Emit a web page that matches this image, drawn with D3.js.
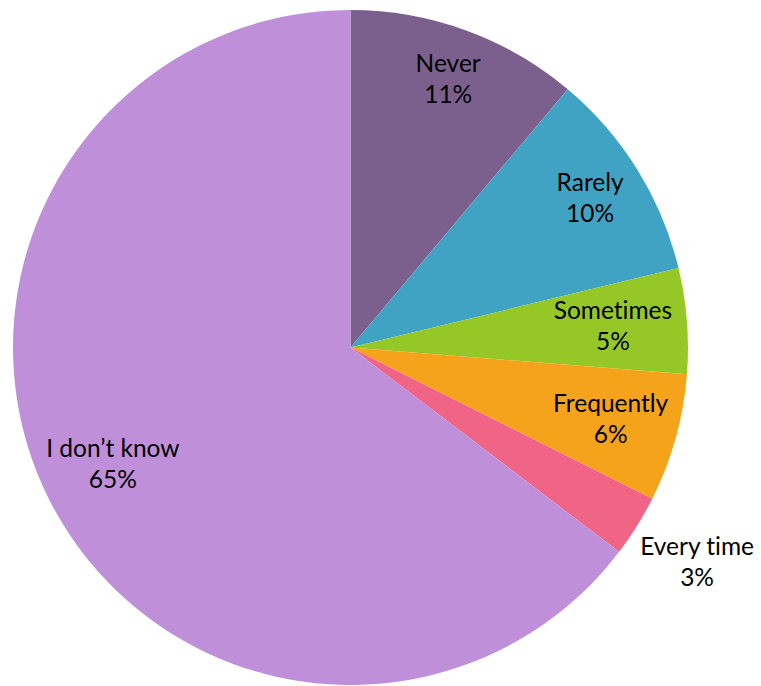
<!DOCTYPE html>
<html>
<head>
  <meta charset="utf-8">
  <title>Pie</title>
  <script src="https://cdn.jsdelivr.net/npm/d3@7"></script>
  <style>
    body { margin: 0; background: #fff; }
    svg text { font-family: Lato, "Open Sans", sans-serif; fill: #000; font-variant-ligatures: none; }
  </style>
</head>
<body>
<div id="container"></div>
<script>
    // answer categories, in clockwise order from 12 o'clock
    var categories = ['Never', 'Rarely', 'Sometimes', 'Frequently', 'Every time', 'I don\u2019t know'];
    var shares = [11.13, 10.09, 5.04, 6.13, 2.96, 64.65];
    var colors = ['#7B608E', '#41A3C3', '#95C826', '#F5A31B', '#F06586', '#BF90D9'];

    // how far out each data label sits (fraction of radius)
    var labelRadius = [0.845, 0.835, 0.78, 0.80, 1.21, 0.786];

    var width = 761, height = 686;
    var cx = 350.5, cy = 347.5, R = 337.5;

    var svg = d3.select("#container").append("svg")
        .attr("width", width).attr("height", height);

    var g = svg.append("g").attr("transform", "translate(" + cx + "," + cy + ")");

    var data = categories.map(function(c, i){ return {name: c, value: shares[i], color: colors[i], lr: labelRadius[i]}; });
    var total = d3.sum(shares);

    var pie = d3.pie().sort(null).value(function(d){ return d.value; });
    var arc = d3.arc().innerRadius(0).outerRadius(R);
    var fmt = d3.format(".0%");

    var arcs = pie(data);

    g.selectAll("path.slice").data(arcs).enter().append("path")
        .attr("class", "slice")
        .attr("d", arc)
        .attr("fill", function(d){ return d.data.color; });

    var labels = g.selectAll("g.lbl").data(arcs).enter().append("g")
        .attr("class", "lbl")
        .attr("transform", function(d){
            var a = (d.startAngle + d.endAngle) / 2;
            var r = R * d.data.lr;
            return "translate(" + (r * Math.sin(a)) + "," + (-r * Math.cos(a)) + ")";
        });

    labels.append("text")
        .attr("text-anchor", "middle")
        .attr("dominant-baseline", "central")
        .attr("y", -17.5)
        .style("font-size", "24.5px")
        .text(function(d){ return d.data.name; });

    labels.append("text")
        .attr("text-anchor", "middle")
        .attr("dominant-baseline", "central")
        .attr("y", 13.5)
        .style("font-size", "24.5px")
        .text(function(d){ return fmt(d.data.value / total); });
</script>
</body>
</html>
